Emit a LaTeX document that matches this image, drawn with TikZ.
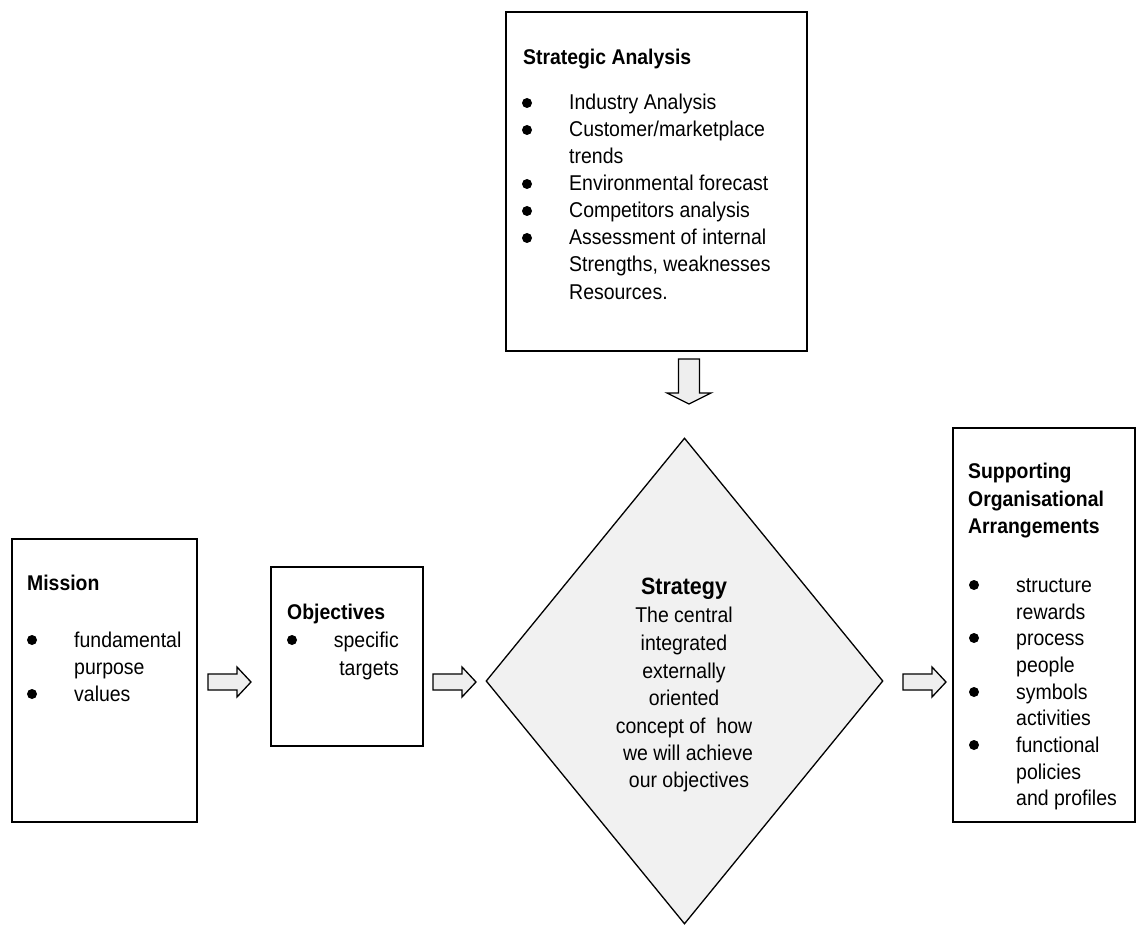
\documentclass[tikz,border=0pt]{standalone}
\usepackage{fontspec}
\setmainfont[FakeStretch=0.91]{Liberation Sans}
\usetikzlibrary{shapes.geometric}
\definecolor{dfill}{HTML}{F1F1F1}
\definecolor{afill}{HTML}{EEEEEE}
\tikzset{
  box/.style={draw=black, line width=2.2pt, fill=white, inner sep=0pt},
  txt/.style={inner sep=0pt, anchor=base west, font=\fontsize{21.4}{27}\selectfont},
  ttl/.style={inner sep=0pt, anchor=base west, font=\fontsize{21.3}{27}\selectfont\bfseries},
  ctxt/.style={inner sep=0pt, anchor=base, font=\fontsize{21.4}{27}\selectfont},
  bul/.style={circle, fill=black, inner sep=0pt, minimum size=10pt},
  arrowbox/.style={draw=black, line width=1.3pt, fill=afill, line join=miter},
  rarrow/.pic={\path[arrowbox] (0,-8) -- (29,-8) -- (29,-15) -- (43,0) -- (29,15) -- (29,8) -- (0,8) -- cycle;},
  darrow/.pic={\path[arrowbox] (-10.5,0) -- (10.5,0) -- (10.5,34) -- (22,34) -- (0,45) -- (-22,34) -- (-10.5,34) -- cycle;}
}
\newcommand\txtline[4]{\node[txt] (#1) at (#2,#3) {#4};}
\newcommand\bulat[3]{\node[bul] (#1) at (#2,#3-7) {};}
\begin{document}
\begin{tikzpicture}[x=1pt,y=-1pt]
\useasboundingbox[fill=white] (0,0) rectangle (1140,925);

% Strategic Analysis box
\node[box, minimum width=301pt, minimum height=339pt] (sa) at (656.5,181.5) {};
\node[ttl] (saT) at (523,65) {Strategic Analysis};
\bulat{sab1}{527}{110} \txtline{sa1}{569}{110}{Industry Analysis}
\bulat{sab2}{527}{137} \txtline{sa2}{569}{137}{Customer/marketplace}
\txtline{sa3}{569}{164}{trends}
\bulat{sab3}{527}{191} \txtline{sa4}{569}{191}{Environmental forecast}
\bulat{sab4}{527}{218} \txtline{sa5}{569}{218}{Competitors analysis}
\bulat{sab5}{527}{245} \txtline{sa6}{569}{245}{Assessment of internal}
\txtline{sa7}{569}{272}{Strengths, weaknesses}
\txtline{sa8}{569}{299}{Resources.}

% down arrow
\pic (dA) at (689,359) {darrow};

% Strategy diamond
\node[diamond, draw=black, line width=1.3pt, fill=dfill, inner sep=0pt,
      minimum width=397pt, minimum height=486pt] (st) at (684.5,681) {};
\node[ctxt, font=\fontsize{23.6}{27}\selectfont\bfseries] (stT) at (684,594) {Strategy};
\node[ctxt] (st1) at (684,622) {The central};
\node[ctxt] (st2) at (684,650) {integrated};
\node[ctxt] (st3) at (684,678) {externally};
\node[ctxt] (st4) at (684,705) {oriented};
\node[ctxt] (st5) at (684,733) {concept of~ how};
\node[ctxt] (st6) at (688,760) {we will achieve};
\node[ctxt] (st7) at (689,787) {our objectives};

% Mission box
\node[box, minimum width=185pt, minimum height=283pt] (mi) at (104.5,680.5) {};
\node[ttl] (miT) at (27,590) {Mission};
\bulat{mib1}{32}{647} \txtline{mi1}{74}{647}{fundamental}
\txtline{mi2}{74}{674}{purpose}
\bulat{mib2}{32}{701} \txtline{mi3}{74}{701}{values}

% Objectives box
\node[box, minimum width=152pt, minimum height=179pt] (ob) at (347,656.5) {};
\node[ttl] (obT) at (287,619) {Objectives};
\bulat{obb1}{292}{647}
\node[txt, anchor=base east] (ob1) at (399,647) {specific};
\node[txt, anchor=base east] (ob2) at (399,675) {targets};

% Supporting box
\node[box, minimum width=182pt, minimum height=394pt] (so) at (1044,625) {};
\node[ttl] (soT1) at (968,478) {Supporting};
\node[ttl] (soT2) at (968,506) {Organisational};
\node[ttl] (soT3) at (968,533) {Arrangements};
\bulat{sob1}{974}{592} \txtline{so1}{1016}{592}{structure}
\txtline{so2}{1016}{619}{rewards}
\bulat{sob2}{974}{645} \txtline{so3}{1016}{645}{process}
\txtline{so4}{1016}{672}{people}
\bulat{sob3}{974}{699} \txtline{so5}{1016}{699}{symbols}
\txtline{so6}{1016}{725}{activities}
\bulat{sob4}{974}{752} \txtline{so7}{1016}{752}{functional}
\txtline{so8}{1016}{779}{policies}
\txtline{so9}{1016}{805}{and profiles}

% block arrows
\pic (rA1) at (208,682) {rarrow};
\pic (rA2) at (433,682) {rarrow};
\pic (rA3) at (903,682) {rarrow};
\end{tikzpicture}
\end{document}
